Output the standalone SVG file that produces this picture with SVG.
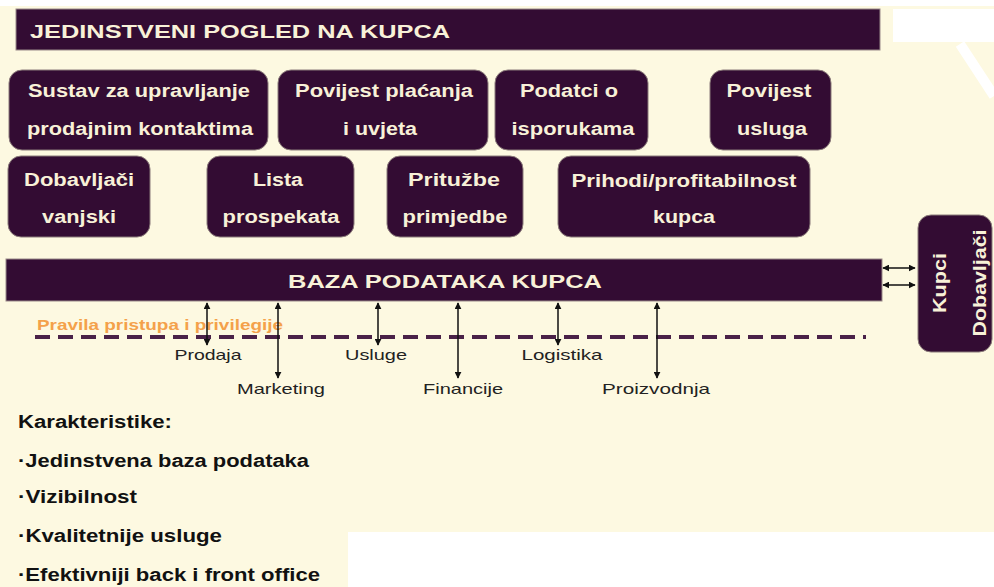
<svg xmlns="http://www.w3.org/2000/svg" width="994" height="587" viewBox="0 0 994 587">
<defs>
<style>
.bg{fill:#fdf9e1}
.box{fill:#330c33;stroke:#8a7a7a;stroke-width:1}
.bar{fill:#330c33;stroke:#9a8a8a;stroke-width:1}
.bt{font-family:"Liberation Sans",Arial,sans-serif;font-weight:bold;font-size:18px;fill:#f8f1d8;text-anchor:middle}
.hd{font-family:"Liberation Sans",Arial,sans-serif;font-weight:bold;font-size:19px;fill:#f8f1d8}
.lb{font-family:"Liberation Sans",Arial,sans-serif;font-size:15px;fill:#222;text-anchor:middle}
.kt{font-family:"Liberation Sans",Arial,sans-serif;font-weight:bold;font-size:18px;fill:#111}
.ar{stroke:#111;stroke-width:1.5;fill:none;marker-start:url(#ah);marker-end:url(#ah)}
</style>
<marker id="ah" viewBox="0 0 10 10" refX="9" refY="5" markerWidth="7" markerHeight="7" orient="auto-start-reverse" markerUnits="userSpaceOnUse">
<path d="M0,0 L10,5 L0,10 z" fill="#111"/>
</marker>
</defs>
<rect x="0" y="0" width="994" height="587" class="bg"/>
<rect x="0" y="0" width="994" height="6" fill="#ffffff"/>
<rect x="893" y="9" width="101" height="33" fill="#ffffff"/>
<line x1="960" y1="44" x2="994" y2="96" stroke="#ffffff" stroke-width="10"/>
<rect x="348" y="532" width="646" height="55" fill="#ffffff"/>

<g id="title">
<rect x="16" y="9" width="864" height="41" class="bar"/>
<text x="30" y="38" class="hd" textLength="420" lengthAdjust="spacingAndGlyphs">JEDINSTVENI POGLED NA KUPCA</text>
</g>

<g id="n1"><rect x="9" y="70" width="259" height="80" rx="13" class="box"/>
<text x="139" y="97" class="bt" textLength="222" lengthAdjust="spacingAndGlyphs">Sustav za upravljanje</text><text x="140" y="135" class="bt" textLength="226" lengthAdjust="spacingAndGlyphs">prodajnim kontaktima</text></g>
<g id="n2"><rect x="278" y="70" width="210" height="80" rx="13" class="box"/>
<text x="384" y="97" class="bt" textLength="178" lengthAdjust="spacingAndGlyphs">Povijest plaćanja</text><text x="380" y="135" class="bt" textLength="74" lengthAdjust="spacingAndGlyphs">i uvjeta</text></g>
<g id="n3"><rect x="495" y="70" width="153" height="80" rx="13" class="box"/>
<text x="569" y="97" class="bt" textLength="98" lengthAdjust="spacingAndGlyphs">Podatci o</text><text x="573" y="135" class="bt" textLength="123" lengthAdjust="spacingAndGlyphs">isporukama</text></g>
<g id="n4"><rect x="710" y="70" width="121" height="80" rx="13" class="box"/>
<text x="769" y="97" class="bt" textLength="85" lengthAdjust="spacingAndGlyphs">Povijest</text><text x="772" y="135" class="bt" textLength="70" lengthAdjust="spacingAndGlyphs">usluga</text></g>

<g id="n5"><rect x="8" y="156" width="142" height="81" rx="13" class="box"/>
<text x="79" y="186" class="bt" textLength="110" lengthAdjust="spacingAndGlyphs">Dobavljači</text><text x="79" y="223" class="bt" textLength="74" lengthAdjust="spacingAndGlyphs">vanjski</text></g>
<g id="n6"><rect x="207" y="156" width="147" height="81" rx="13" class="box"/>
<text x="278" y="186" class="bt" textLength="50" lengthAdjust="spacingAndGlyphs">Lista</text><text x="281" y="223" class="bt" textLength="117" lengthAdjust="spacingAndGlyphs">prospekata</text></g>
<g id="n7"><rect x="387" y="156" width="136" height="81" rx="13" class="box"/>
<text x="454" y="186" class="bt" textLength="92" lengthAdjust="spacingAndGlyphs">Pritužbe</text><text x="455" y="223" class="bt" textLength="105" lengthAdjust="spacingAndGlyphs">primjedbe</text></g>
<g id="n8"><rect x="558" y="156" width="252" height="81" rx="13" class="box"/>
<text x="684" y="187" class="bt" textLength="225" lengthAdjust="spacingAndGlyphs">Prihodi/profitabilnost</text><text x="684" y="223" class="bt" textLength="62" lengthAdjust="spacingAndGlyphs">kupca</text></g>

<g id="baza">
<rect x="6" y="259" width="876" height="42" class="bar"/>
<text x="288" y="288" class="hd" textLength="314" lengthAdjust="spacingAndGlyphs">BAZA PODATAKA KUPCA</text>
</g>

<g id="kupci">
<rect x="918" y="215" width="74" height="137" rx="13" class="box"/>
<text transform="translate(946,283) rotate(-90)" class="bt" font-size="17" textLength="60" lengthAdjust="spacingAndGlyphs">Kupci</text>
<text transform="translate(986,283) rotate(-90)" class="bt" font-size="17" textLength="107" lengthAdjust="spacingAndGlyphs">Dobavljači</text>
</g>

<g id="rules">
<line x1="35" y1="337" x2="866" y2="337" stroke="#4a2248" stroke-width="4" stroke-dasharray="15,8"/>
<text x="37" y="330" font-family="Liberation Sans,Arial,sans-serif" font-weight="bold" font-size="15" fill="#f4a14a" textLength="246" lengthAdjust="spacingAndGlyphs">Pravila pristupa i privilegije</text>
</g>

<g id="connectors">
<line x1="883" y1="268" x2="915" y2="268" class="ar"/>
<line x1="883" y1="285" x2="915" y2="285" class="ar"/>
<line x1="207" y1="303" x2="207" y2="345" class="ar"/>
<line x1="278" y1="303" x2="278" y2="378" class="ar"/>
<line x1="378" y1="303" x2="378" y2="345" class="ar"/>
<line x1="458" y1="303" x2="458" y2="378" class="ar"/>
<line x1="558" y1="303" x2="558" y2="345" class="ar"/>
<line x1="657" y1="303" x2="657" y2="378" class="ar"/>
</g>

<g id="labels">
<text x="208" y="360" class="lb" textLength="67" lengthAdjust="spacingAndGlyphs">Prodaja</text>
<text x="281" y="394" class="lb" textLength="88" lengthAdjust="spacingAndGlyphs">Marketing</text>
<text x="376" y="360" class="lb" textLength="62" lengthAdjust="spacingAndGlyphs">Usluge</text>
<text x="463" y="394" class="lb" textLength="80" lengthAdjust="spacingAndGlyphs">Financije</text>
<text x="562" y="360" class="lb" textLength="81" lengthAdjust="spacingAndGlyphs">Logistika</text>
<text x="656" y="394" class="lb" textLength="108" lengthAdjust="spacingAndGlyphs">Proizvodnja</text>
</g>

<g id="karakteristike">
<text x="18" y="428" class="kt" textLength="154" lengthAdjust="spacingAndGlyphs">Karakteristike:</text>
<text x="18" y="467" class="kt" textLength="291" lengthAdjust="spacingAndGlyphs">·Jedinstvena baza podataka</text>
<text x="18" y="503" class="kt" textLength="119" lengthAdjust="spacingAndGlyphs">·Vizibilnost</text>
<text x="18" y="542" class="kt" textLength="204" lengthAdjust="spacingAndGlyphs">·Kvalitetnije usluge</text>
<text x="18" y="581" class="kt" textLength="302" lengthAdjust="spacingAndGlyphs">·Efektivniji back i front office</text>
</g>
</svg>
